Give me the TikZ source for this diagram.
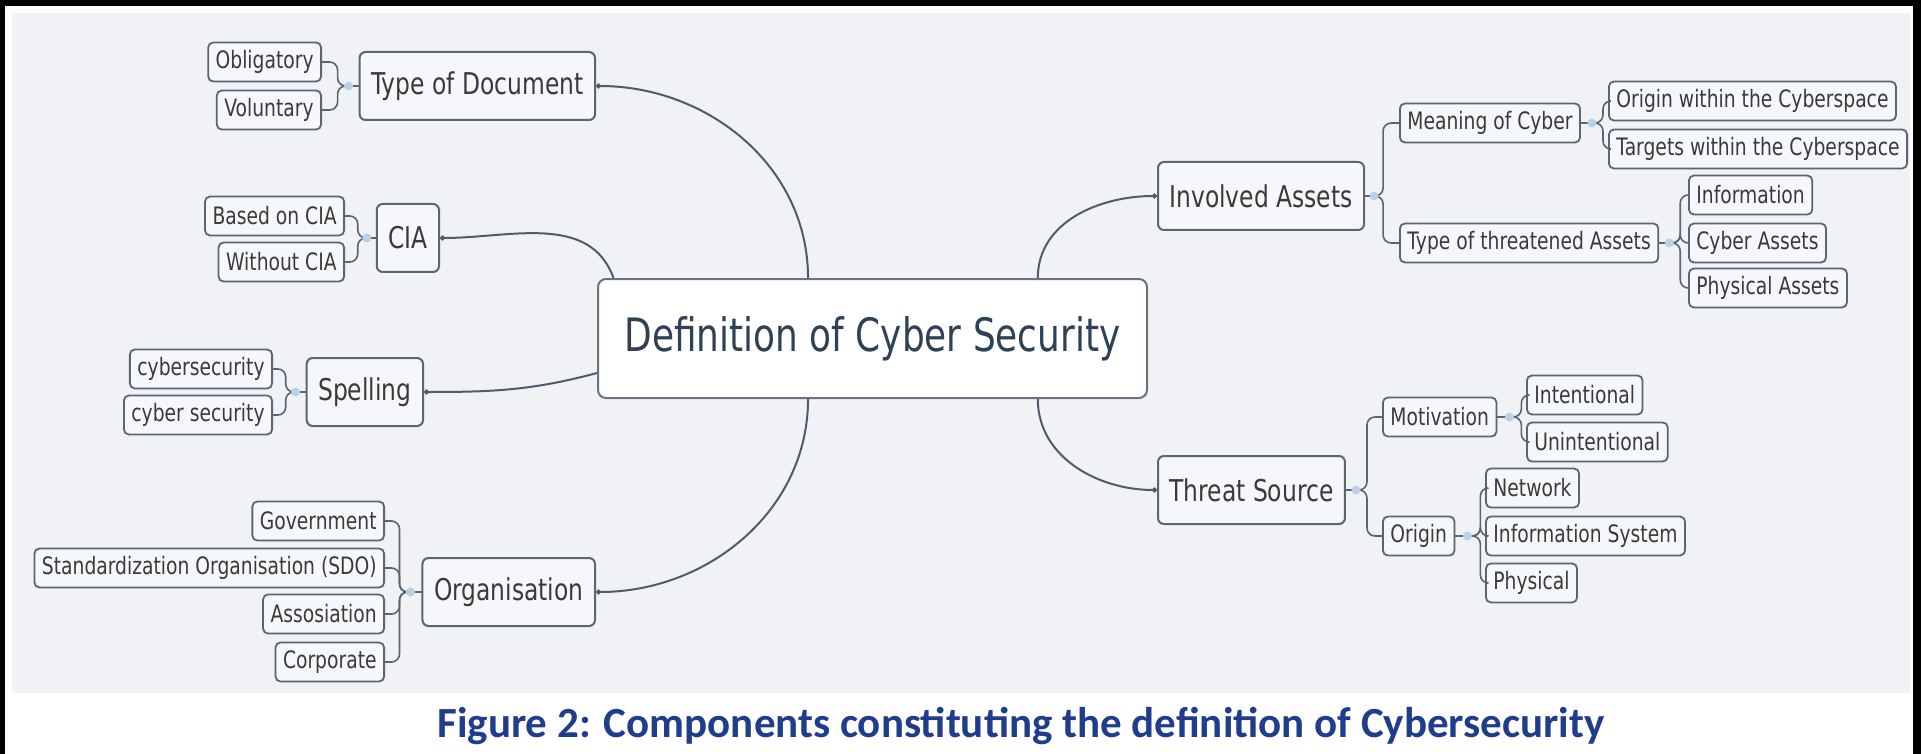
\documentclass[tikz,border=0pt]{standalone}
\usepackage{fontspec}
\setmainfont{DejaVu Sans}[FakeStretch=0.78]
\newfontfamily\capfont{Carlito}
\usetikzlibrary{arrows.meta, calc}

\definecolor{panel}{HTML}{F0F2F6}
\definecolor{boxfill}{HTML}{F6F7FA}
\definecolor{boxline}{HTML}{5B6670}
\definecolor{boxtext}{HTML}{3A3A3A}
\definecolor{hubline}{HTML}{6A7480}
\definecolor{hubtext}{HTML}{2E4155}
\definecolor{linkcol}{HTML}{4D5D6D}
\definecolor{branchcol}{HTML}{5A6570}
\definecolor{foldcol}{HTML}{B9D0E6}
\definecolor{capblue}{HTML}{203C8C}

\begin{document}
\begin{tikzpicture}[x=0.5pt, y=-0.5pt,
    hub/.style={draw=hubline, line width=1pt, fill=white, rounded corners=4pt, text=hubtext, font=\fontsize{23}{26}\selectfont, minimum width=274.5pt, minimum height=59.5pt},
    topic/.style={draw=boxline, line width=1pt, fill=boxfill, rounded corners=3pt, text=boxtext, font=\fontsize{15}{18}\selectfont, inner xsep=5.75pt, minimum height=34pt},
    leaf/.style={draw=boxline, line width=0.9pt, fill=boxfill, rounded corners=2.5pt, text=boxtext, font=\fontsize{12}{14}\selectfont, inner xsep=3.75pt, minimum height=19.5pt},
    link/.style={draw=linkcol, line width=1pt, -{Circle[length=2.5pt]}},
    branch/.style={draw=branchcol, line width=0.8pt, rounded corners=4pt},
    fold/.style={circle, fill=foldcol, inner sep=0pt, minimum size=4.5pt}
]
\useasboundingbox (0,0) rectangle (1921,754);
\fill[black] (0,0) rectangle (1921,754);
\fill[white] (5,6) rectangle (1913,754);
\fill[panel] (12,13) rectangle (1910,693);

\node[hub] (hub) at (872.5,338.5) {Definition of Cyber Security};

\node[topic, anchor=east] (typedoc) at (596,86) {Type of Document};
\node[topic, anchor=east] (cia) at (440,238) {CIA};
\node[topic, anchor=east] (spelling) at (424,392) {Spelling};
\node[topic, anchor=east] (orga) at (596,592) {Organisation};
\node[topic, anchor=west] (involved) at (1157,196) {Involved Assets};
\node[topic, anchor=west] (threat) at (1157,490) {Threat Source};

\node[leaf, anchor=east] (oblig) at (322,62) {Obligatory};
\node[leaf, anchor=east] (volun) at (322,110) {Voluntary};
\node[leaf, anchor=east] (based) at (345,216) {Based on CIA};
\node[leaf, anchor=east] (without) at (345,262) {Without CIA};
\node[leaf, anchor=east] (joined) at (273,369) {cybersecurity};
\node[leaf, anchor=east] (split) at (273,415) {cyber security};
\node[leaf, anchor=east] (govt) at (385,521) {Government};
\node[leaf, anchor=east] (sdo) at (385,568) {Standardization Organisation (SDO)};
\node[leaf, anchor=east] (asso) at (385,614) {Assosiation};
\node[leaf, anchor=east] (corp) at (385,662) {Corporate};

\node[leaf, anchor=west] (meaning) at (1399,123) {Meaning of Cyber};
\node[leaf, anchor=west] (threatened) at (1399,243) {Type of threatened Assets};
\node[leaf, anchor=west] (origcyb) at (1608,101) {Origin within the Cyberspace};
\node[leaf, anchor=west] (targcyb) at (1608,149) {Targets within the Cyberspace};
\node[leaf, anchor=west] (info) at (1688,195) {Information};
\node[leaf, anchor=west] (cybass) at (1688,243) {Cyber Assets};
\node[leaf, anchor=west] (physass) at (1688,288) {Physical Assets};
\node[leaf, anchor=west] (motiv) at (1382,417) {Motivation};
\node[leaf, anchor=west] (origin) at (1382,536) {Origin};
\node[leaf, anchor=west] (intent) at (1526,395) {Intentional};
\node[leaf, anchor=west] (unint) at (1526,442) {Unintentional};
\node[leaf, anchor=west] (network) at (1485,488) {Network};
\node[leaf, anchor=west] (infosys) at (1485,536) {Information System};
\node[leaf, anchor=west] (physical) at (1485,583) {Physical};

\draw[link] ($(hub.north west)!0.383!(hub.north east)$) to[out=90, in=0] (typedoc.east);
\draw[link] ($(hub.north west)!0.03!(hub.north east)$) to[out=110, in=0] (cia.east);
\draw[link] ($(hub.west)+(0,34.5)$) to[out=195, in=0] (spelling.east);
\draw[link] ($(hub.south west)!0.383!(hub.south east)$) to[out=270, in=0] (orga.east);
\draw[link] ($(hub.north west)!0.8!(hub.north east)$) to[out=90, in=180] (involved.west);
\draw[link] ($(hub.south west)!0.8!(hub.south east)$) to[out=270, in=180] (threat.west);

\foreach \c in {oblig,volun} \draw[branch] (typedoc.west) -- ++(-21,0) |- (\c.east);
\foreach \c in {based,without} \draw[branch] (cia.west) -- ++(-18,0) |- (\c.east);
\foreach \c in {joined,split} \draw[branch] (spelling.west) -- ++(-20,0) |- (\c.east);
\foreach \c in {govt,sdo,asso,corp} \draw[branch] (orga.west) -- ++(-22,0) |- (\c.east);
\foreach \c in {meaning,threatened} \draw[branch] (involved.east) -- ++(18,0) |- (\c.west);
\foreach \c in {origcyb,targcyb} \draw[branch] (meaning.east) -- ++(22,0) |- (\c.west);
\foreach \c in {info,cybass,physass} \draw[branch] (threatened.east) -- ++(21,0) |- (\c.west);
\foreach \c in {motiv,origin} \draw[branch] (threat.east) -- ++(21,0) |- (\c.west);
\foreach \c in {intent,unint} \draw[branch] (motiv.east) -- ++(24,0) |- (\c.west);
\foreach \c in {network,infosys,physical} \draw[branch] (origin.east) -- ++(25,0) |- (\c.west);

\node[fold] (f1) at ($(typedoc.west)+(-10,0)$) {};
\node[fold] (f2) at ($(cia.west)+(-9,0)$) {};
\node[fold] (f3) at ($(spelling.west)+(-10,0)$) {};
\node[fold] (f4) at ($(orga.west)+(-11,0)$) {};
\node[fold] (f5) at ($(involved.east)+(9,0)$) {};
\node[fold] (f6) at ($(meaning.east)+(11,0)$) {};
\node[fold] (f7) at ($(threatened.east)+(10,0)$) {};
\node[fold] (f8) at ($(threat.east)+(10,0)$) {};
\node[fold] (f9) at ($(motiv.east)+(12,0)$) {};
\node[fold] (f10) at ($(origin.east)+(12,0)$) {};

\node[font=\capfont\bfseries\fontsize{21.5}{24}\selectfont, text=capblue, anchor=base] (caption) at (1021,737) {Figure 2: Components constituting the definition of Cybersecurity};
\end{tikzpicture}
\end{document}
